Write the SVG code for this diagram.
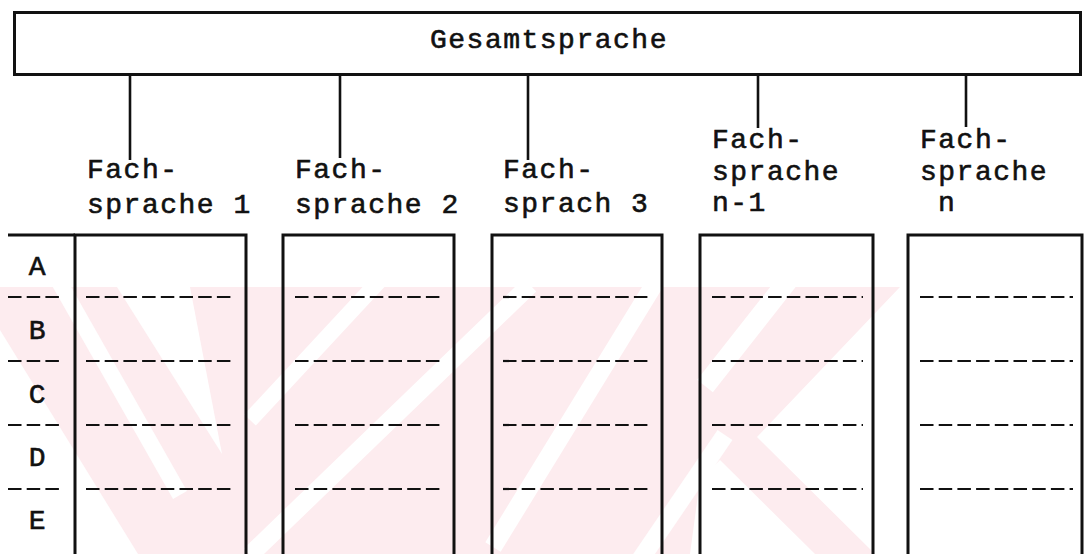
<svg xmlns="http://www.w3.org/2000/svg" width="1085" height="554" viewBox="0 0 1085 554">
  <style>
    .t { font-family: "Liberation Mono", "Courier New", monospace; font-size: 28px; letter-spacing: 1.5px; fill: #111; stroke: #111; stroke-width: 0.6; }
    .box { fill: none; stroke: #111; stroke-width: 3; }
    .conn { stroke: #111; stroke-width: 2.6; }
    .dash { stroke: #111; stroke-width: 2.2; stroke-dasharray: 13.5 5.2; }
    .wm { fill: #fdecef; }
    .wmw { stroke: #ffffff; fill: none; }
  </style>
  <defs>
    <clipPath id="wmclip"><rect x="0" y="287" width="900" height="267"/></clipPath>
  </defs>
  <rect width="1085" height="554" fill="#ffffff"/>

  <g id="watermark" clip-path="url(#wmclip)">
    <polygon class="wm" points="0,287 900,287 757,437 875,554 0,554"/>
    <polygon fill="#ffffff" points="0,330 0,554 138,554"/>
    <line class="wmw" x1="58" y1="280" x2="180" y2="495" stroke-width="16"/>
    <polygon fill="#ffffff" points="117,287 190,287 222,454"/>
    <line class="wmw" x1="250" y1="420" x2="380" y2="280" stroke-width="16"/>
    <line class="wmw" x1="250" y1="555" x2="530" y2="285" stroke-width="18"/>
    <line class="wmw" x1="493" y1="547" x2="655" y2="283" stroke-width="18"/>
    <line class="wmw" x1="640" y1="560" x2="725" y2="435" stroke-width="18"/>
    <line class="wmw" x1="705" y1="386" x2="790" y2="278" stroke-width="20"/>
    <polygon fill="#ffffff" points="700,480 720,460 815,554 690,554"/>
  </g>

  <g id="gesamtsprache">
    <rect class="box" x="14.5" y="12.5" width="1066" height="62"/>
    <text class="t" x="430" y="48">Gesamtsprache</text>
  </g>

  <g id="connectors">
    <line class="conn" x1="130" y1="75" x2="130" y2="160"/>
    <line class="conn" x1="340" y1="75" x2="340" y2="158"/>
    <line class="conn" x1="528" y1="75" x2="528" y2="160"/>
    <line class="conn" x1="758" y1="75" x2="758" y2="128"/>
    <line class="conn" x1="966" y1="75" x2="966" y2="127"/>
  </g>

  <g id="labels-col">
    <line class="box" x1="8" y1="235" x2="75" y2="235"/>
    <text class="t" x="38" y="275" text-anchor="middle">A</text>
    <text class="t" x="38" y="339" text-anchor="middle">B</text>
    <text class="t" x="38" y="403" text-anchor="middle">C</text>
    <text class="t" x="38" y="466" text-anchor="middle">D</text>
    <text class="t" x="38" y="529" text-anchor="middle">E</text>
    <line class="dash" x1="8" y1="297" x2="64" y2="297"/>
    <line class="dash" x1="8" y1="361" x2="64" y2="361"/>
    <line class="dash" x1="8" y1="425" x2="64" y2="425"/>
    <line class="dash" x1="8" y1="489" x2="64" y2="489"/>
  </g>

  <g id="fach1">
    <text class="t" x="87" y="178">Fach-</text>
    <text class="t" x="87" y="213">sprache 1</text>
    <polyline class="box" points="75,556 75,235 246,235 246,556"/>
    <line class="dash" x1="86" y1="297" x2="235" y2="297"/>
    <line class="dash" x1="86" y1="361" x2="235" y2="361"/>
    <line class="dash" x1="86" y1="425" x2="235" y2="425"/>
    <line class="dash" x1="86" y1="489" x2="235" y2="489"/>
  </g>

  <g id="fach2">
    <text class="t" x="295" y="178">Fach-</text>
    <text class="t" x="295" y="213">sprache 2</text>
    <polyline class="box" points="283,556 283,235 454,235 454,556"/>
    <line class="dash" x1="295" y1="297" x2="444" y2="297"/>
    <line class="dash" x1="295" y1="361" x2="444" y2="361"/>
    <line class="dash" x1="295" y1="425" x2="444" y2="425"/>
    <line class="dash" x1="295" y1="489" x2="444" y2="489"/>
  </g>

  <g id="fach3">
    <text class="t" x="503" y="178">Fach-</text>
    <text class="t" x="503" y="212">sprach 3</text>
    <polyline class="box" points="492,556 492,235 662,235 662,556"/>
    <line class="dash" x1="503" y1="297" x2="651" y2="297"/>
    <line class="dash" x1="503" y1="361" x2="651" y2="361"/>
    <line class="dash" x1="503" y1="425" x2="651" y2="425"/>
    <line class="dash" x1="503" y1="489" x2="651" y2="489"/>
  </g>

  <g id="fach-n-1">
    <text class="t" x="712" y="148">Fach-</text>
    <text class="t" x="712" y="180">sprache</text>
    <text class="t" x="712" y="211">n-1</text>
    <polyline class="box" points="700,556 700,235 873,235 873,556"/>
    <line class="dash" x1="712" y1="297" x2="863" y2="297"/>
    <line class="dash" x1="712" y1="361" x2="863" y2="361"/>
    <line class="dash" x1="712" y1="425" x2="863" y2="425"/>
    <line class="dash" x1="712" y1="489" x2="863" y2="489"/>
  </g>

  <g id="fach-n">
    <text class="t" x="920" y="148">Fach-</text>
    <text class="t" x="920" y="180">sprache</text>
    <text class="t" x="938" y="211">n</text>
    <polyline class="box" points="908,556 908,235 1082,235 1082,556"/>
    <line class="dash" x1="920" y1="297" x2="1073" y2="297"/>
    <line class="dash" x1="920" y1="361" x2="1073" y2="361"/>
    <line class="dash" x1="920" y1="425" x2="1073" y2="425"/>
    <line class="dash" x1="920" y1="489" x2="1073" y2="489"/>
  </g>
</svg>
